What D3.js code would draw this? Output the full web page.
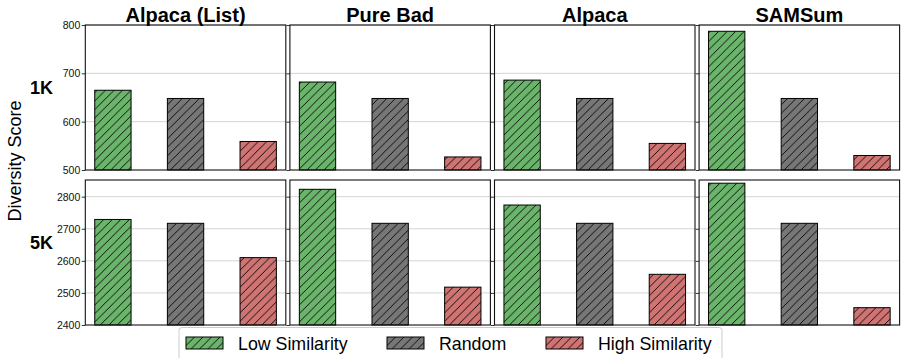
<!DOCTYPE html>
<html>
<head>
<meta charset="utf-8">
<script src="https://cdn.jsdelivr.net/npm/d3@7"></script>
<style>
  body { margin: 0; background: white; }
  svg { font-family: "Liberation Sans", Arial, sans-serif; }
</style>
</head>
<body>
<div id="chart"></div>
<script>
// data
var datasets = ["Alpaca (List)", "Pure Bad", "Alpaca", "SAMSum"];
var sizes = ["1K", "5K"];
var methods = ["Low Similarity", "Random", "High Similarity"];

var lowSim1K = [665, 682, 686, 787];
var random1K = [648, 648, 648, 648];
var highSim1K = [559, 527, 555, 530];

var lowSim5K = [2729, 2823, 2774, 2842];
var random5K = [2717, 2717, 2717, 2717];
var highSim5K = [2610, 2518, 2558, 2454];

var ticks1K = [500, 600, 700, 800];
var ticks5K = [2400, 2500, 2600, 2700, 2800];
var domain1K = [500, 800];
var domain5K = [2400, 2852];

var width = 902;
var height = 358;
var colours = ["#6bb46b", "#777777", "#cf7373"];

var rows = [
  { label: sizes[0], series: [lowSim1K, random1K, highSim1K], ticks: ticks1K, domain: domain1K, top: 25 },
  { label: sizes[1], series: [lowSim5K, random5K, highSim5K], ticks: ticks5K, domain: domain5K, top: 180 }
];
var panelW = 200.5;
var panelH = 145;
var panelLeft = 85.3;
var panelStep = 204.6;

var svg = d3.select("#chart").append("svg")
  .attr("width", width)
  .attr("height", height);

// hatch patterns, one per method colour
var hatch = 8.5;
var defs = svg.append("defs");
colours.forEach(function(c, i) {
  var p = defs.append("pattern")
    .attr("id", "hatch_" + i)
    .attr("patternUnits", "userSpaceOnUse")
    .attr("width", hatch)
    .attr("height", hatch);
  p.append("rect").attr("width", hatch).attr("height", hatch).attr("fill", c);
  p.append("path")
    .attr("d", "M-2,2 l4,-4 M0," + hatch + " l" + hatch + "," + (-hatch) +
      " M" + (hatch - 2) + "," + (hatch + 2) + " l4,-4")
    .attr("stroke", "black")
    .attr("stroke-width", 0.9);
});

var x = d3.scaleLinear()
  .domain([-0.38, 2.38])
  .range([0, panelW]);
var barW = x(0.5) - x(0);

rows.forEach(function(row, r) {
  var y = d3.scaleLinear()
    .domain(row.domain)
    .range([row.top + panelH, row.top]);

  datasets.forEach(function(name, d) {
    var left = panelLeft + d * panelStep;
    var g = svg.append("g")
      .attr("transform", "translate(" + left + ",0)");

    // horizontal grid lines
    g.append("g")
      .selectAll("line")
      .data(row.ticks.filter(function(t) { return t > row.domain[0]; }))
      .enter()
      .append("line")
      .attr("x1", 0)
      .attr("x2", panelW)
      .attr("y1", function(t) { return y(t); })
      .attr("y2", function(t) { return y(t); })
      .style("stroke", "#d4d4d4")
      .style("stroke-width", 1);

    // bars
    g.append("g")
      .selectAll("rect")
      .data(methods)
      .enter()
      .append("rect")
      .attr("x", function(m, i) { return x(i) - barW / 2; })
      .attr("y", function(m, i) { return y(row.series[i][d]); })
      .attr("width", barW)
      .attr("height", function(m, i) { return y(row.domain[0]) - y(row.series[i][d]); })
      .style("fill", function(m, i) { return "url(#hatch_" + i + ")"; })
      .style("stroke", "black")
      .style("stroke-width", 1);

    // y axis only labelled on first column
    var axis = d3.axisLeft(y)
      .tickValues(row.ticks)
      .tickSize(3.5)
      .tickPadding(1.5)
      .tickFormat(d === 0 ? d3.format("d") : "");
    var ax = g.append("g").call(axis);
    ax.select(".domain").remove();
    ax.selectAll("text")
      .style("font-size", "10.5px")
      .style("fill", "#111");
    ax.selectAll("line").style("stroke", "#333");

    // panel frame
    g.append("rect")
      .attr("x", 0)
      .attr("y", row.top)
      .attr("width", panelW)
      .attr("height", panelH)
      .style("fill", "none")
      .style("stroke", "#111")
      .style("stroke-width", 1.1);

    if (r === 0) {
      svg.append("text")
        .attr("x", left + panelW / 2)
        .attr("y", 22)
        .attr("text-anchor", "middle")
        .style("font-size", "20px")
        .style("font-weight", "bold")
        .text(name);
    }
  });

  // row label
  svg.append("text")
    .attr("x", 41.5)
    .attr("y", row.top + 69)
    .attr("text-anchor", "middle")
    .style("font-size", "18px")
    .style("font-weight", "bold")
    .text(row.label);
});

// shared y label
svg.append("text")
  .attr("transform", "translate(21,161) rotate(-90)")
  .attr("text-anchor", "middle")
  .style("font-size", "18px")
  .text("Diversity Score");

// legend
var legend = svg.append("g");
legend.append("rect")
  .attr("x", 179)
  .attr("y", 327.5)
  .attr("width", 543)
  .attr("height", 40)
  .attr("rx", 3)
  .style("fill", "white")
  .style("stroke", "#cccccc");

var legendX = [186, 387, 546];
var items = legend.selectAll(".legend")
  .data(methods)
  .enter()
  .append("g")
  .attr("class", "legend")
  .attr("transform", function(m, i) { return "translate(" + legendX[i] + ",337)"; });

items.append("rect")
  .attr("width", 37)
  .attr("height", 12)
  .style("fill", function(m, i) { return "url(#hatch_" + i + ")"; })
  .style("stroke", "black")
  .style("stroke-width", 1);

items.append("text")
  .attr("x", 52)
  .attr("y", 12.5)
  .style("font-size", "17.8px")
  .text(function(m) { return m; });
</script>
</body>
</html>
